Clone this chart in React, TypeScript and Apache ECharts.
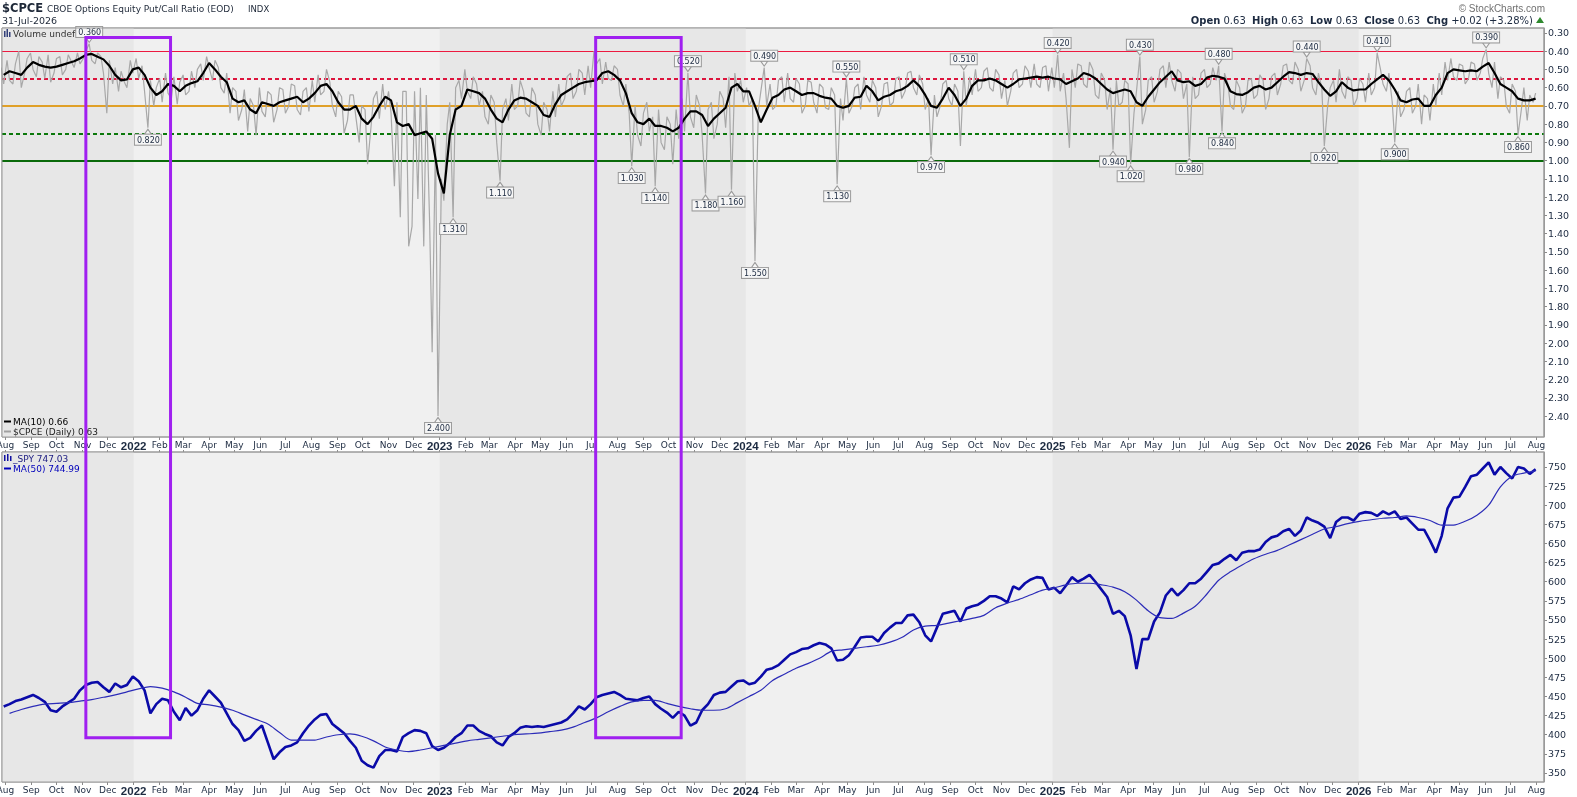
import React, { useEffect, useRef } from "react";
import * as echarts from "echarts";

const DAY = 86400000;
const WEEK0 = Date.UTC(2021, 6, 30);
const X_MIN = Date.UTC(2021, 6, 28);
const X_MAX = Date.UTC(2026, 7, 10);

// CPCE 10-day moving average, weekly readings
const ma2021 = [0.53,0.51,0.52,0.53,0.49,0.46,0.475,0.485,0.49,0.485,0.475,0.465,0.455,0.44,0.42,0.415,0.43,0.445,0.48,0.53,0.56,0.555,0.50];
const ma2022 = [0.49,0.53,0.60,0.64,0.62,0.58,0.59,0.62,0.59,0.575,0.565,0.52,0.465,0.50,0.54,0.57,0.66,0.68,0.67,0.72,0.74,0.68,0.69,0.70,0.68,0.67,0.66,0.65,0.68,0.66,0.63,0.59,0.58,0.62,0.68,0.72,0.72,0.70,0.77,0.80,0.76,0.70,0.65,0.67,0.79,0.81,0.80,0.86,0.85,0.84,0.88,1.07];
const ma2023 = [1.18,0.86,0.72,0.70,0.61,0.62,0.63,0.66,0.72,0.77,0.79,0.72,0.67,0.655,0.66,0.68,0.70,0.75,0.76,0.69,0.64,0.62,0.60,0.58,0.57,0.565,0.56,0.52,0.51,0.53,0.56,0.63,0.74,0.79,0.80,0.77,0.81,0.81,0.82,0.84,0.82,0.77,0.73,0.73,0.75,0.81,0.77,0.74,0.71,0.60,0.58,0.62];
const ma2024 = [0.62,0.70,0.79,0.72,0.655,0.64,0.61,0.60,0.62,0.64,0.63,0.63,0.645,0.655,0.66,0.70,0.71,0.70,0.655,0.65,0.59,0.62,0.67,0.65,0.64,0.62,0.61,0.59,0.56,0.59,0.64,0.70,0.71,0.66,0.60,0.64,0.70,0.66,0.59,0.56,0.56,0.55,0.56,0.58,0.60,0.58,0.555,0.55,0.545,0.54,0.545,0.54];
const ma2025 = [0.55,0.555,0.58,0.565,0.55,0.52,0.53,0.55,0.58,0.61,0.63,0.62,0.61,0.62,0.68,0.70,0.65,0.61,0.57,0.54,0.51,0.56,0.57,0.565,0.59,0.58,0.545,0.535,0.54,0.55,0.62,0.635,0.64,0.625,0.60,0.59,0.61,0.60,0.57,0.54,0.515,0.52,0.53,0.52,0.525,0.57,0.61,0.645,0.62,0.57,0.60,0.615];
const ma2026 = [0.61,0.61,0.58,0.555,0.53,0.56,0.61,0.67,0.68,0.665,0.66,0.70,0.70,0.64,0.60,0.52,0.50,0.505,0.51,0.505,0.51,0.485,0.465,0.52,0.58,0.60,0.62,0.66,0.67,0.67,0.66];

// CPCE daily readings, two per week (Tue, Fri)
const raw2021 = [0.49,0.58, 0.45,0.56, 0.58,0.47, 0.40,0.60, 0.52,0.44, 0.41,0.50, 0.54,0.43, 0.46,0.55, 0.42,0.57, 0.52,0.44, 0.43,0.53, 0.50,0.42, 0.46,0.49, 0.41,0.47, 0.44,0.40, 0.36,0.45, 0.47,0.41, 0.43,0.52, 0.74,0.45, 0.58,0.49, 0.62,0.51, 0.57,0.60, 0.45,0.52];
const raw2022 = [0.44,0.55, 0.48,0.62, 0.82,0.56, 0.70,0.60, 0.55,0.68, 0.52,0.63, 0.66,0.54, 0.69,0.57, 0.53,0.64, 0.62,0.51, 0.60,0.50, 0.47,0.56, 0.43,0.49, 0.56,0.45, 0.49,0.60, 0.63,0.52, 0.74,0.60, 0.62,0.78, 0.72,0.61, 0.84,0.66, 0.70,0.86, 0.60,0.73, 0.76,0.62, 0.64,0.79, 0.72,0.60, 0.61,0.74, 0.70,0.58, 0.59,0.72, 0.75,0.62, 0.60,0.73, 0.56,0.68, 0.53,0.64, 0.62,0.50, 0.57,0.70, 0.76,0.62, 0.65,0.85, 0.78,0.64, 0.64,0.76, 0.90,0.70, 0.72,1.02, 0.82,0.66, 0.62,0.77, 0.58,0.72, 0.62,0.74, 1.14,0.68, 1.31,0.62, 0.62,1.47, 1.36,0.62, 1.21,0.60, 1.47,0.64, 1.34,2.05, 0.86,2.40];
const raw2023 = [1.10,1.22, 0.80,0.68, 1.31,0.60, 0.56,0.66, 0.50,0.62, 0.66,0.54, 0.58,0.70, 0.62,0.76, 0.80,0.64, 0.68,0.90, 1.11,0.72, 0.66,0.78, 0.58,0.72, 0.70,0.56, 0.62,0.74, 0.76,0.60, 0.64,0.80, 0.86,0.68, 0.72,0.84, 0.62,0.76, 0.58,0.70, 0.66,0.54, 0.52,0.66, 0.62,0.50, 0.52,0.64, 0.48,0.60, 0.40,0.47, 0.44,0.58, 0.46,0.55, 0.56,0.48, 0.50,0.64, 0.70,0.58, 0.74,1.03, 0.70,0.86, 0.92,0.74, 0.68,0.84, 0.76,1.14, 0.72,0.90, 0.94,0.76, 0.80,1.02, 0.72,0.88, 0.66,0.84, 0.52,0.76, 0.82,0.64, 0.70,0.86, 1.18,0.72, 0.68,0.88, 0.80,0.62, 0.66,0.82, 0.54,1.16, 0.52,0.62, 0.56,0.68];
const raw2024 = [0.60,0.70, 0.66,1.55, 0.72,0.62, 0.49,0.70, 0.58,0.72, 0.70,0.56, 0.54,0.68, 0.52,0.66, 0.68,0.55, 0.58,0.74, 0.70,0.56, 0.57,0.68, 0.74,0.58, 0.60,0.71, 0.72,0.60, 0.64,1.13, 0.66,0.78, 0.55,0.74, 0.70,0.60, 0.58,0.72, 0.54,0.64, 0.68,0.56, 0.60,0.76, 0.70,0.58, 0.57,0.70, 0.68,0.55, 0.54,0.66, 0.62,0.52, 0.51,0.60, 0.64,0.53, 0.58,0.72, 0.66,0.97, 0.64,0.76, 0.70,0.58, 0.56,0.66, 0.70,0.58, 0.62,0.92, 0.51,0.70, 0.54,0.64, 0.50,0.62, 0.60,0.51, 0.49,0.60, 0.62,0.50, 0.53,0.66, 0.56,0.70, 0.62,0.52, 0.50,0.60, 0.58,0.48, 0.51,0.60, 0.47,0.58, 0.60,0.49, 0.48,0.62];
const raw2025 = [0.49,0.60, 0.42,0.62, 0.52,0.66, 0.93,0.50, 0.60,0.47, 0.48,0.58, 0.60,0.46, 0.50,0.64, 0.66,0.52, 0.56,0.72, 0.60,0.94, 0.56,0.70, 0.68,0.56, 0.58,1.02, 0.74,0.62, 0.43,0.80, 0.72,0.56, 0.54,0.68, 0.62,0.50, 0.48,0.60, 0.46,0.56, 0.62,0.50, 0.52,0.66, 0.58,0.98, 0.54,0.66, 0.64,0.52, 0.50,0.60, 0.58,0.49, 0.56,0.48, 0.84,0.52, 0.58,0.70, 0.72,0.56, 0.60,0.74, 0.70,0.56, 0.55,0.66, 0.64,0.53, 0.56,0.72, 0.66,0.54, 0.52,0.64, 0.58,0.48, 0.47,0.56, 0.58,0.46, 0.50,0.62, 0.56,0.44, 0.48,0.60, 0.64,0.52, 0.60,0.92, 0.70,0.60, 0.56,0.68, 0.50,0.62, 0.66,0.54, 0.56,0.70];
const raw2026 = [0.66,0.55, 0.58,0.68, 0.52,0.64, 0.60,0.41, 0.50,0.58, 0.62,0.52, 0.68,0.90, 0.62,0.76, 0.72,0.62, 0.60,0.74, 0.70,0.58, 0.80,0.64, 0.66,0.78, 0.58,0.70, 0.52,0.64, 0.46,0.56, 0.44,0.54, 0.56,0.47, 0.48,0.58, 0.55,0.46, 0.47,0.56, 0.52,0.44, 0.39,0.52, 0.60,0.46, 0.66,0.54, 0.56,0.70, 0.74,0.58, 0.62,0.86, 0.72,0.60, 0.78,0.64, 0.68,0.63];

// labelled extremes: [week index, 0 = Tue / 1 = Fri]
const peakLabels = [[15,0],[25,0],[74,1],[77,0],[85,0],[107,1],[111,1],[117,0],[120,0],[124,1],[128,1],[130,0],[142,1],[144,0],[158,1],[164,0],[180,0],[189,1],[192,1],[194,0],[202,1],[207,1],[208,0],[222,1],[225,1],[234,1],[237,1],[253,0],[258,1]];

// SPY weekly closes
const spy2021 = [437,440,444,446,449,452,448,443,432,430,437,442,447,458,465,468,469,462,456,467,462,465,476];
const spy2022 = [470,458,428,440,447,445,430,419,435,425,432,447,458,450,442,428,414,406,392,396,405,412,390,368,377,384,386,390,402,412,420,426,427,414,408,402,392,383,366,360,357,372,380,380,378,397,402,406,405,402,385,380];
const spy2023 = [383,389,397,402,412,412,405,401,398,390,386,397,402,409,411,410,411,410,412,414,416,420,428,437,433,440,449,452,454,456,452,447,446,445,448,450,440,434,429,422,430,425,412,416,432,440,452,455,456,463,470,471];
const spy2024 = [466,468,476,485,487,491,498,505,508,512,513,517,520,518,513,497,498,504,515,527,528,528,522,533,540,546,546,556,557,547,530,522,540,558,560,562,548,565,568,570,575,581,581,578,573,594,590,598,603,606,605,590];
const spy2025 = [592,585,595,606,600,604,609,600,590,580,558,562,555,530,486,525,525,548,560,582,591,582,589,598,598,604,613,622,624,630,635,628,638,640,640,642,652,658,660,666,669,660,667,684,680,677,672,657,678,684,684,680];
const spy2026 = [689,691,690,686,692,688,692,682,684,676,668,668,654,638,660,696,710,711,724,738,740,748,756,740,750,742,735,750,748,741,747.03];

// SPY 50-day MA, every second week
const spyMa50A = [428,433,437,440,441,442,444,446,449,452,456,460,463,461,456,449,441,439,436,432,426,420,414,403,393,393,393,397,400,401,398,392,384,380,378,380,383,386,389,392,394,396,398,400,401,402,404,406,410,416,422,430,437,443,445,445,441,437,434,432,432,434,442,450,458,471];
const spyMa50B = [479,487,493,500,509,511,513,515,517,521,527,537,542,543,546,549,552,556,566,572,577,583,589,592,596,598,598,596,593,587,576,562,553,552,559,568,584,602,613,622,630,636,641,648,655,662,669,672,676,679,681,683,684,686,684,680,674,674,679,687,700,724,738,742,744.99];

const cpceTicks = [0.3,0.4,0.5,0.6,0.7,0.8,0.9,1.0,1.1,1.2,1.3,1.4,1.5,1.6,1.7,1.8,1.9,2.0,2.1,2.2,2.3,2.4];
const spyTicks = [350,375,400,425,450,475,500,525,550,575,600,625,650,675,700,725,750];
const monthNames = ["Jan","Feb","Mar","Apr","May","Jun","Jul","Aug","Sep","Oct","Nov","Dec"];
const shadedYears = [2021, 2023, 2025];
const refLines = [
  { value: 0.40, color: "#ec1a40", width: 1.2, type: "solid" as any },
  { value: 0.55, color: "#dc143c", width: 2, type: [4, 3] as any },
  { value: 0.70, color: "#e0a028", width: 2, type: "solid" as any },
  { value: 0.85, color: "#0b780b", width: 2, type: [4, 3] as any },
  { value: 1.00, color: "#0a6a0a", width: 2, type: "solid" as any },
];
const highlightBoxes = [
  { from: Date.UTC(2021, 10, 5), to: Date.UTC(2022, 1, 14) },
  { from: Date.UTC(2023, 6, 6), to: Date.UTC(2023, 9, 16) },
];
const BOX_TOP_CPCE = 0.325;
const BOX_BOTTOM_SPY = 396;

const cpceMA = [...ma2021, ...ma2022, ...ma2023, ...ma2024, ...ma2025, ...ma2026];
const cpceRaw = [...raw2021, ...raw2022, ...raw2023, ...raw2024, ...raw2025, ...raw2026];
const spy = [...spy2021, ...spy2022, ...spy2023, ...spy2024, ...spy2025, ...spy2026];
const spyMa50 = [...spyMa50A, ...spyMa50B];

const weekDate = (i: number) => WEEK0 + i * 7 * DAY;
const maData = cpceMA.map((v, i) => [weekDate(i), v]);
const rawData = cpceRaw.map((v, k) => [weekDate(Math.floor(k / 2)) - (k % 2 === 0 ? 3 : 0) * DAY, v]);
const spyData = spy.map((v, i) => [weekDate(i), v]);
const ma50Data = spyMa50.map((v, j) => [weekDate(1 + 2 * j), v]);

const monthTicks: number[] = [];
for (let y = 2021; y <= 2026; y++) {
  for (let m = 0; m < 12; m++) {
    const t = Date.UTC(y, m, 1);
    if (t >= X_MIN && t <= X_MAX) monthTicks.push(t);
  }
}

const peakData = peakLabels.map(([w, s]) => {
  const k = 2 * w + s;
  const [t, v] = rawData[k];
  const up = v < cpceMA[w];
  return {
    value: [t, v],
    symbolRotate: up ? 180 : 0,
    symbolOffset: [0, up ? -4 : 4],
    label: { position: up ? "top" : "bottom" },
  };
});

const bands = shadedYears.map((y) => [
  { xAxis: Math.max(X_MIN, Date.UTC(y, 0, 1)) },
  { xAxis: Math.min(X_MAX, Date.UTC(y + 1, 0, 1)) },
]);

const FONT = "DejaVu Sans";
const NAVY = "#1c2a40";

const fmtMonth = (v: number) => {
  const d = new Date(v);
  const m = d.getUTCMonth();
  return m === 0 ? `{y|${d.getUTCFullYear()}}` : monthNames[m];
};

const makeX = (gi: number) => ({
  type: "value",
  gridIndex: gi,
  min: X_MIN,
  max: X_MAX,
  axisLine: { show: false },
  axisTick: { show: true, length: 3, lineStyle: { color: "#8a8a8a" }, customValues: monthTicks },
  axisLabel: {
    customValues: monthTicks,
    margin: 3,
    fontSize: 9,
    fontFamily: FONT,
    color: NAVY,
    formatter: fmtMonth,
    hideOverlap: false,
    rich: { y: { fontFamily: "Liberation Sans", fontWeight: "bold", fontSize: 11.5, color: NAVY } },
  },
  splitLine: { show: false },
});

const GRID_STYLE = {
  show: true, backgroundColor: "#f0f0f0", borderColor: "#9a9a9a", borderWidth: 1,
  containLabel: false, outerBoundsMode: "none",
};

function buildOption() {
  return {
    animation: false,
    textStyle: { fontFamily: FONT },
    grid: [
      { left: 2, top: 28, width: 1542, height: 409, ...GRID_STYLE },
      { left: 2, top: 452, width: 1542, height: 330, ...GRID_STYLE },
    ],
    xAxis: [
      makeX(0),
      makeX(1),
      {
        type: "value", gridIndex: 1, position: "top", min: X_MIN, max: X_MAX,
        axisLine: { show: false }, axisLabel: { show: false }, splitLine: { show: false },
        axisTick: { show: true, length: 2, lineStyle: { color: "#8a8a8a" }, customValues: monthTicks },
      },
    ],
    yAxis: [
      {
        type: "value", gridIndex: 0, position: "right", inverse: true, min: 0.273, max: 2.515,
        axisLine: { show: true, lineStyle: { color: "#9a9a9a" } },
        axisTick: { show: true, length: 3, customValues: cpceTicks, lineStyle: { color: "#8a8a8a" } },
        axisLabel: { customValues: cpceTicks, formatter: (v: number) => v.toFixed(2), margin: 4, fontSize: 9.5, fontFamily: FONT, color: NAVY },
        splitLine: { show: false },
      },
      {
        type: "value", gridIndex: 1, position: "right", min: 338.2, max: 769.6,
        axisLine: { show: true, lineStyle: { color: "#9a9a9a" } },
        axisTick: { show: true, length: 3, customValues: spyTicks, lineStyle: { color: "#8a8a8a" } },
        axisLabel: { customValues: spyTicks, formatter: (v: number) => String(Math.round(v)), margin: 4, fontSize: 9.5, fontFamily: FONT, color: NAVY },
        splitLine: { show: false },
      },
    ],
    series: [
      {
        type: "line", xAxisIndex: 0, yAxisIndex: 0, data: [], silent: true, z: 1,
        markArea: { silent: true, itemStyle: { color: "#e7e7e7" }, data: bands },
        markLine: {
          silent: true, symbol: "none", z: 2, label: { show: false },
          data: refLines.map((r) => ({ yAxis: r.value, lineStyle: { color: r.color, width: r.width, type: r.type } })),
        },
      },
      {
        type: "line", xAxisIndex: 0, yAxisIndex: 0, data: rawData, showSymbol: false, silent: true, z: 3,
        lineStyle: { color: "#a8a8a8", width: 1.2 },
      },
      {
        type: "line", xAxisIndex: 0, yAxisIndex: 0, data: maData, showSymbol: false, silent: true, z: 4,
        lineStyle: { color: "#000000", width: 2.2 },
      },
      {
        type: "scatter", xAxisIndex: 0, yAxisIndex: 0, data: peakData, silent: true, z: 6,
        symbol: "triangle", symbolSize: [7, 5],
        itemStyle: { color: "#f6f6f6", borderColor: "#9a9a9a", borderWidth: 1, opacity: 1 },
        label: {
          show: true, distance: 0, formatter: (p: any) => p.value[1].toFixed(3),
          fontSize: 8, fontFamily: FONT, color: NAVY, lineHeight: 9,
          backgroundColor: "#f6f6f6", borderColor: "#9a9a9a", borderWidth: 1, padding: [1, 1, 0, 2],
        },
      },
      {
        type: "line", xAxisIndex: 1, yAxisIndex: 1, data: [], silent: true, z: 1,
        markArea: { silent: true, itemStyle: { color: "#e7e7e7" }, data: bands },
      },
      {
        type: "line", xAxisIndex: 1, yAxisIndex: 1, data: spyData, showSymbol: false, silent: true, z: 3,
        lineStyle: { color: "#0a0aa8", width: 2.6 },
      },
      {
        type: "line", xAxisIndex: 1, yAxisIndex: 1, data: ma50Data, showSymbol: false, silent: true, z: 4,
        lineStyle: { color: "#2c2cb8", width: 1.2 },
        smooth: 0.3,
      },
    ],
  };
}

function staticGraphics() {
  const lastMA = cpceMA[cpceMA.length - 1];
  const lastRaw = cpceRaw[cpceRaw.length - 1];
  const lastSpy = spy[spy.length - 1];
  const lastMa50 = spyMa50[spyMa50.length - 1];
  const t = (x: number, y: number, text: string, font: string, fill: string, extra: any = {}) => ({
    type: "text", x, y, z: 50, silent: true,
    style: { text, font, fill, verticalAlign: "middle", align: "left", ...extra },
  });
  return [
    t(2, 8, "$CPCE", `bold 11.5px "${FONT}"`, "#1e2838"),
    t(47, 8.5, "CBOE Options Equity Put/Call Ratio (EOD)", `9px "${FONT}"`, "#1e2838"),
    t(248, 8.5, "INDX", `8.5px "${FONT}"`, "#1e2838"),
    t(2, 20, "31-Jul-2026", `9.5px "${FONT}"`, "#1e2838"),
    t(1545, 8, "© StockCharts.com", `10px "Liberation Sans"`, "#707070", { align: "right" }),
    t(1533, 20, "{b|Open} 0.63  {b|High} 0.63  {b|Low} 0.63  {b|Close} 0.63  {b|Chg} +0.02 (+3.28%)", `10px "${FONT}"`, NAVY, {
      align: "right",
      rich: { b: { fontWeight: "bold", fontSize: 10, fontFamily: FONT, fill: NAVY } },
    }),
    { type: "polygon", z: 50, silent: true, shape: { points: [[1536, 23], [1544, 23], [1540, 17]] }, style: { fill: "#2f8a2f" } },
    { type: "rect", z: 50, silent: true, shape: { x: 4, y: 31, width: 1.5, height: 6 }, style: { fill: "#33407a" } },
    { type: "rect", z: 50, silent: true, shape: { x: 6.5, y: 29, width: 1.5, height: 8 }, style: { fill: "#33407a" } },
    { type: "rect", z: 50, silent: true, shape: { x: 9, y: 32, width: 1.5, height: 5 }, style: { fill: "#33407a" } },
    t(13, 33.5, "Volume undef", `9px "${FONT}"`, "#333333"),
    { type: "line", z: 50, silent: true, shape: { x1: 4, y1: 421.5, x2: 11, y2: 421.5 }, style: { stroke: "#000", lineWidth: 2 } },
    t(13, 421.5, `MA(10) ${lastMA.toFixed(2)}`, `9px "${FONT}"`, "#000000"),
    { type: "line", z: 50, silent: true, shape: { x1: 4, y1: 431.5, x2: 11, y2: 431.5 }, style: { stroke: "#a0a0a0", lineWidth: 2 } },
    t(13, 431.5, `$CPCE (Daily) ${lastRaw.toFixed(2)}`, `9px "${FONT}"`, "#222222"),
    { type: "rect", z: 50, silent: true, shape: { x: 4, y: 455, width: 1.5, height: 6 }, style: { fill: "#1010a0" } },
    { type: "rect", z: 50, silent: true, shape: { x: 7, y: 454, width: 1.5, height: 7 }, style: { fill: "#1010a0" } },
    { type: "rect", z: 50, silent: true, shape: { x: 10, y: 456, width: 1.5, height: 5 }, style: { fill: "#1010a0" } },
    t(13, 458.5, `_SPY ${lastSpy.toFixed(2)}`, `9px "${FONT}"`, "#1a1a80"),
    { type: "line", z: 50, silent: true, shape: { x1: 4, y1: 468.5, x2: 11, y2: 468.5 }, style: { stroke: "#0000bb", lineWidth: 2 } },
    t(13, 468.5, `MA(50) ${lastMa50.toFixed(2)}`, `9px "${FONT}"`, "#0000bb"),
  ];
}

export default function App() {
  const ref = useRef<HTMLDivElement>(null);
  useEffect(() => {
    if (!ref.current) return;
    const chart = echarts.init(ref.current, null, { renderer: "svg" });
    chart.setOption(buildOption() as any);
    const y1 = chart.convertToPixel({ yAxisIndex: 0 } as any, BOX_TOP_CPCE) as number;
    const y2 = chart.convertToPixel({ yAxisIndex: 1 } as any, BOX_BOTTOM_SPY) as number;
    const boxes = highlightBoxes.map((b) => {
      const x1 = chart.convertToPixel({ xAxisIndex: 0 } as any, b.from) as number;
      const x2 = chart.convertToPixel({ xAxisIndex: 0 } as any, b.to) as number;
      return {
        type: "rect", z: 100, silent: true,
        shape: { x: x1, y: y1, width: x2 - x1, height: y2 - y1 },
        style: { fill: "none", stroke: "#a020f0", lineWidth: 3 },
      };
    });
    const borders = [
      { type: "rect", z: 40, silent: true, shape: { x: 2, y: 28, width: 1542, height: 409 }, style: { fill: "none", stroke: "#9a9a9a", lineWidth: 1 } },
      { type: "rect", z: 40, silent: true, shape: { x: 2, y: 452, width: 1542, height: 330 }, style: { fill: "none", stroke: "#9a9a9a", lineWidth: 1 } },
    ];
    chart.setOption({ graphic: { elements: [...borders, ...staticGraphics(), ...boxes] } } as any);
    return () => chart.dispose();
  }, []);
  return <div ref={ref} style={{ position: "fixed", left: 0, top: 0, width: 1577, height: 797 }} />;
}
